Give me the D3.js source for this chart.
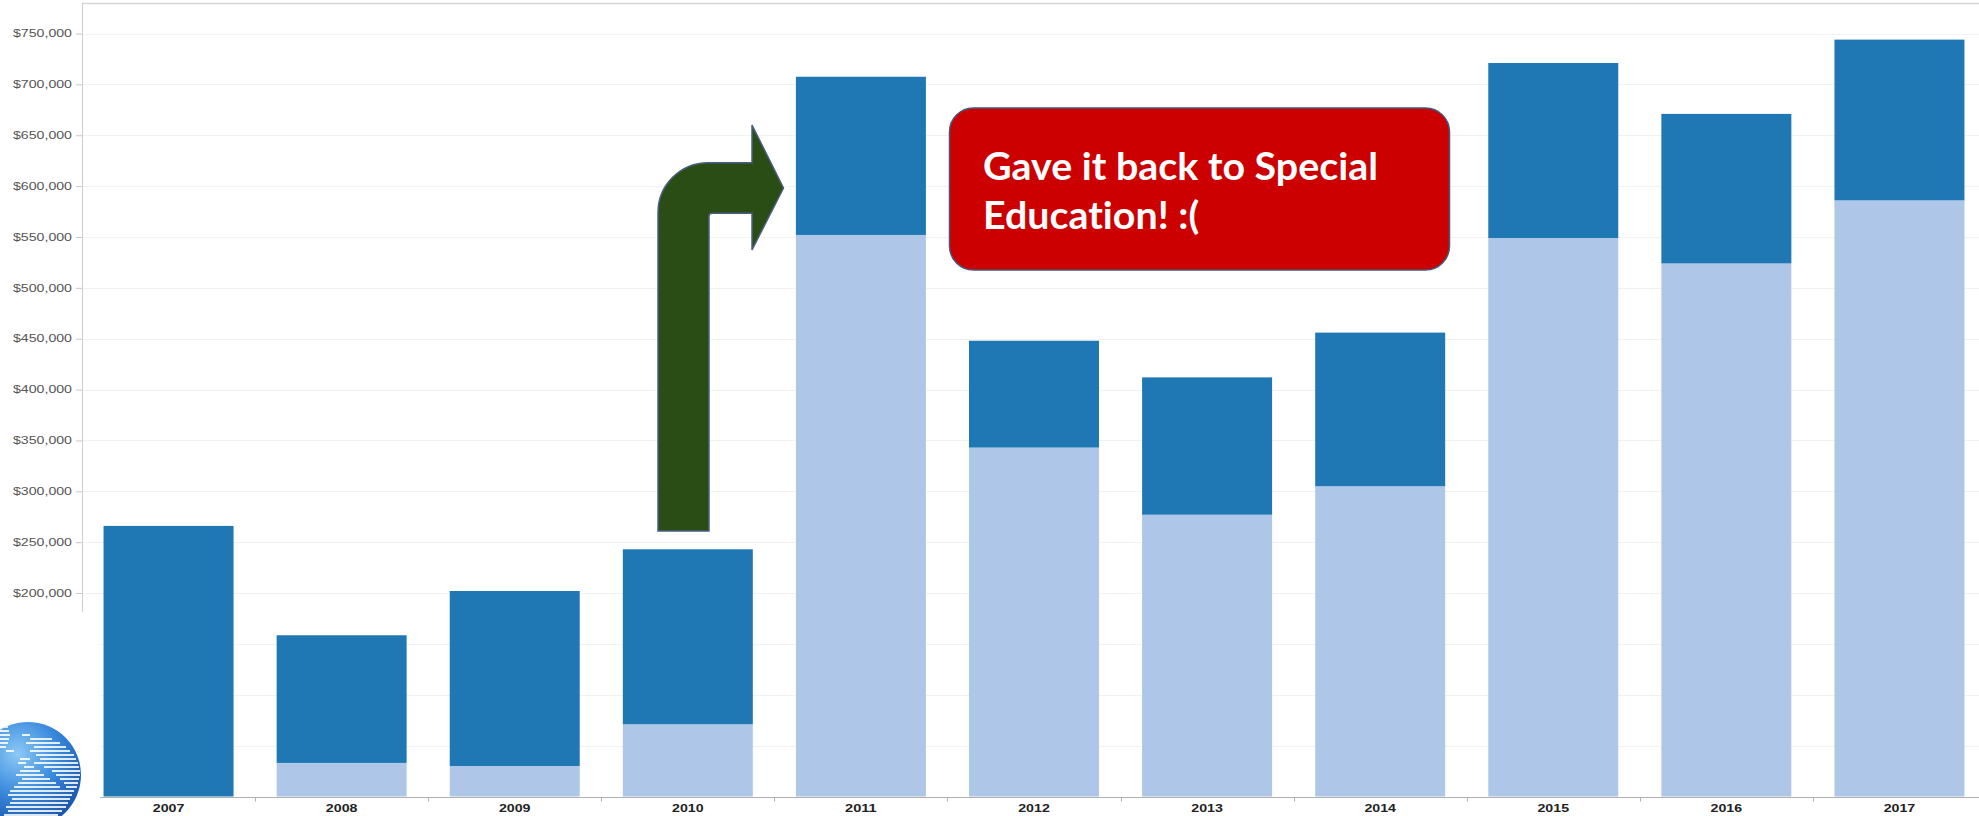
<!DOCTYPE html>
<html><head><meta charset="utf-8">
<script src="https://cdn.jsdelivr.net/npm/d3@7"></script>
<style>body{margin:0;background:#fff;} svg{display:block;} .callout text{font-variant-ligatures:none;font-feature-settings:"liga" 0;}</style>
</head><body>
<svg id="chart" width="1979" height="816"></svg>
<script>
// ---- data ----
const years = ["2007","2008","2009","2010","2011","2012","2013","2014","2015","2016","2017"];
const lowerValues = [0, 33000, 30000, 71000, 552000, 343000, 277000, 305000, 549000, 524000, 586000];
const upperValues = [266000, 125500, 172000, 172000, 155500, 105000, 135000, 151000, 172000, 147000, 158000];
const seriesKeys = ["lower", "upper"];
const seriesColors = ["#aec7e8", "#1f77b4"];
const yTickValues = [200000, 250000, 300000, 350000, 400000, 450000, 500000, 550000, 600000, 650000, 700000, 750000];
const gridValues = [50000, 100000, 150000, 200000, 250000, 300000, 350000, 400000, 450000, 500000, 550000, 600000, 650000, 700000, 750000];
const calloutLines = ["Gave it back to Special", "Education! :("];

const rows = years.map((yr, i) => ({year: yr, lower: lowerValues[i], upper: upperValues[i]}));

const W = 1979, H = 816;
const svg = d3.select("#chart");

const x = d3.scaleBand().domain(years).range([82, 1986]).paddingInner(0.249).paddingOuter(0.1245);
const y = d3.scaleLinear().domain([0, 780000]).range([796.5, 3]);

// grid
svg.append("g").selectAll("line").data(gridValues).join("line")
  .attr("x1", d => d < 200000 ? 100 : 83).attr("x2", W)
  .attr("y1", d => Math.round(y(d)) + 0.5).attr("y2", d => Math.round(y(d)) + 0.5)
  .attr("stroke", "#f2f2f2").attr("stroke-width", 1);

// top frame line
svg.append("line").attr("x1", 82).attr("x2", W).attr("y1", 3.5).attr("y2", 3.5)
  .attr("stroke", "#d6d6d6").attr("stroke-width", 1.5);

// bars
const stacked = d3.stack().keys(seriesKeys)(rows);
svg.append("g").selectAll("g").data(stacked).join("g")
  .attr("fill", (d, i) => seriesColors[i])
  .selectAll("rect").data(d => d).join("rect")
  .attr("x", d => x(d.data.year))
  .attr("width", x.bandwidth())
  .attr("y", d => y(d[1]))
  .attr("height", d => Math.max(0, y(d[0]) - y(d[1])));

// y axis
const yAxis = svg.append("g").attr("transform", "translate(82,0)")
  .call(d3.axisLeft(y).tickValues(yTickValues).tickFormat(d => "$" + d3.format(",")(d)).tickSize(6).tickPadding(4));
yAxis.select(".domain").remove();
yAxis.selectAll(".tick line").attr("stroke", "#c8c8c8");
yAxis.selectAll(".tick text")
  .attr("font-family", "Liberation Sans, Arial, sans-serif")
  .attr("font-size", 10).attr("fill", "#555")
  .attr("textLength", 59).attr("lengthAdjust", "spacingAndGlyphs");
svg.append("line").attr("x1", 82.5).attr("x2", 82.5).attr("y1", 3).attr("y2", 612)
  .attr("stroke", "#cfcfcf").attr("stroke-width", 1);

// x axis
const baseY = Math.round(y(0)) + 0.5;
const xAxis = svg.append("g").attr("transform", `translate(0,${baseY})`)
  .call(d3.axisBottom(x).tickSize(0).tickPadding(6.8));
xAxis.select(".domain").remove();
xAxis.selectAll(".tick text")
  .attr("font-family", "Liberation Sans, Arial, sans-serif")
  .attr("font-weight", "bold").attr("font-size", 11.5).attr("fill", "#222")
  .attr("textLength", 31.6).attr("lengthAdjust", "spacingAndGlyphs");
svg.append("line").attr("x1", 100).attr("x2", W).attr("y1", baseY).attr("y2", baseY)
  .attr("stroke", "#b0b0b0").attr("stroke-width", 1);
const halfGap = x.step() * x.paddingInner() / 2;
svg.append("g").selectAll("line").data(years.slice(1)).join("line")
  .attr("x1", d => Math.round(x(d) - halfGap) + 0.5).attr("x2", d => Math.round(x(d) - halfGap) + 0.5)
  .attr("y1", baseY).attr("y2", baseY + 4)
  .attr("stroke", "#b0b0b0");

// ---- annotations ----
// green bent arrow from 2010 toward 2011
const stemL = 658, stemR = 709, stemB = 531;
const barT = 162.7, barB = 213.3, R = 50;
const headX = 752, headT = 125, headBt = 250, tipX = 783.5, tipY = 188;
const arrowPath = `M${stemL},${stemB} L${stemL},${barT + R} A${R},${R} 0 0 1 ${stemL + R},${barT}
  L${headX},${barT} L${headX},${headT} L${tipX},${tipY} L${headX},${headBt} L${headX},${barB}
  L${stemR + 3},${barB} Q${stemR},${barB} ${stemR},${barB + 3} L${stemR},${stemB} Z`;
svg.append("path").attr("d", arrowPath)
  .attr("fill", "#2a4d16").attr("stroke", "#4a5f80").attr("stroke-width", 1.5);

// callout box
svg.append("rect").attr("x", 949.5).attr("y", 108).attr("width", 500).attr("height", 162)
  .attr("rx", 24).attr("ry", 24)
  .attr("fill", "#cc0000").attr("stroke", "#44597a").attr("stroke-width", 1.5);
const ct = svg.append("g").attr("class", "callout").attr("font-family", "Lato, 'Open Sans', sans-serif")
  .attr("font-weight", "bold").attr("font-size", 38.5).attr("fill", "#fff");
const t1 = ct.append("text").attr("x", 983).attr("y", 180).text(calloutLines[0]);
const t2 = ct.append("text").attr("x", 983).attr("y", 229).text(calloutLines[1]);
const f = 395 / t1.node().getComputedTextLength();
t1.attr("textLength", 395).attr("lengthAdjust", "spacingAndGlyphs");
t2.attr("textLength", t2.node().getComputedTextLength() * f).attr("lengthAdjust", "spacingAndGlyphs");

// globe logo (decorative)
const defs = svg.append("defs");
const rg = defs.append("radialGradient").attr("id", "globeGrad").attr("cx", "40%").attr("cy", "30%").attr("r", "75%");
rg.append("stop").attr("offset", "0%").attr("stop-color", "#8ccaf6");
rg.append("stop").attr("offset", "50%").attr("stop-color", "#3a8ade");
rg.append("stop").attr("offset", "100%").attr("stop-color", "#1650a6");
defs.append("clipPath").attr("id", "globeClip").append("circle").attr("cx", 28).attr("cy", 775).attr("r", 53);
svg.append("circle").attr("cx", 28).attr("cy", 775).attr("r", 53).attr("fill", "url(#globeGrad)");
const stripes = [
  [726, 0, 8], [730, 0, 9], [734, 0, 10], [734, 22, 30], [738, 0, 9], [738, 30, 52],
  [742, 0, 8], [742, 26, 60], [746, 0, 6], [746, 34, 66], [750, 6, 14], [750, 30, 70],
  [754, 36, 74], [758, 20, 30], [758, 40, 76], [762, 18, 26], [762, 34, 78], [766, 24, 34], [766, 44, 79],
  [770, 20, 40], [770, 52, 80], [774, 16, 44], [774, 56, 80], [778, 22, 50], [778, 60, 79],
  [782, 18, 56], [782, 64, 78], [786, 14, 60], [786, 66, 77], [790, 10, 74], [794, 8, 72],
  [798, 12, 70], [802, 10, 68], [806, 6, 66], [810, 8, 62], [814, 4, 58]
];
svg.append("g").attr("clip-path", "url(#globeClip)").selectAll("rect").data(stripes).join("rect")
  .attr("x", d => d[1]).attr("y", d => d[0]).attr("width", d => d[2] - d[1]).attr("height", 2)
  .attr("fill", "#fff").attr("opacity", 0.85);
</script>
</body></html>
